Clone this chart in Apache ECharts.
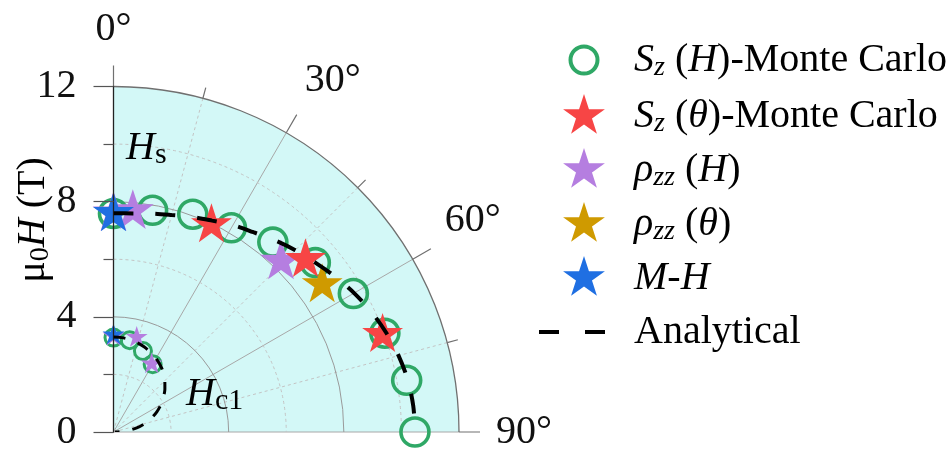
<!DOCTYPE html>
<html>
<head>
<meta charset="utf-8">
<script src="https://cdn.jsdelivr.net/npm/echarts@6/dist/echarts.min.js"></script>
<style>
html, body { margin: 0; padding: 0; background: #ffffff; }
#chart { width: 948px; height: 455px; }
</style>
</head>
<body>
<div id="chart"></div>
<script>
// Field direction (degrees from the c axis) and field strength mu0H (T)
const szHAngleHs = [0, 10, 20, 30, 40, 50, 60, 70, 80, 90];
const szHFieldHs = [7.59, 7.82, 8.05, 8.19, 8.61, 9.15, 9.62, 10.03, 10.34, 10.47];
const szHAngleHc1 = [0, 10, 20, 30];
const szHFieldHc1 = [3.28, 3.24, 2.99, 2.72];

const szThetaAngle = [25.3, 48.1, 70.1];
const szThetaField = [7.96, 8.96, 9.94];

const rhoHAngleHs = [0, 5, 44.5];
const rhoHFieldHs = [7.6, 7.7, 8.3];
const rhoHAngleHc1 = [0, 13.8, 29.3];
const rhoHFieldHc1 = [3.33, 3.38, 2.71];

const rhoThetaAngle = [54.8];
const rhoThetaField = [8.87];

const mhAngleHs = [0];
const mhFieldHs = [7.58];
const mhAngleHc1 = [0];
const mhFieldHc1 = [3.37];

// Analytical phase boundaries
const curveAngle = [0, 5, 10, 15, 20, 25, 30, 35, 40, 45, 50, 55, 60, 65, 70, 75, 80, 85, 90];
const analyticHs = [7.6, 7.62, 7.7, 7.8, 7.95, 8.1, 8.3, 8.47, 8.7, 8.93, 9.15, 9.4, 9.65, 9.88, 10.08, 10.25, 10.38, 10.45, 10.48];
const analyticHc1 = [3.3, 3.29, 3.26, 3.21, 3.14, 3.05, 2.95, 2.83, 2.7, 2.52, 2.33, 2.12, 1.9, 1.66, 1.4, 1.12, 0.82, 0.45, 0.05];

// Axis ranges, tick spacing and field grid circles
const fieldMin = 0, fieldMax = 12, fieldStep = 4;
const angleMin = 0, angleMax = 90, angleStep = 30;
const majorRings = [4, 8];
const minorRings = [2, 6, 10];

const SERIF = '"Liberation Serif", "Times New Roman", serif';
const GREEN = '#2fa866', RED = '#f74545', PURPLE = '#b57ee0', GOLD = '#cf9a00', BLUE = '#1f6fe2';
const PLOT_BG = '#d3f8f7';

// five-point star, bounding box padded so its centre is the star's circumcentre
const STAR = 'path://M50 0L61.23 34.55L97.55 34.55L68.17 55.9L79.39 90.45L50 69.1L20.61 90.45L31.83 55.9L2.45 34.55L38.77 34.55ZM50 100';
const RING = 'path://M0 0M44 44M22 8.5C29.46 8.5 35.5 14.54 35.5 22C35.5 29.46 29.46 35.5 22 35.5C14.54 35.5 8.5 29.46 8.5 22C8.5 14.54 14.54 8.5 22 8.5Z';

function pts(field, angle) { return field.map((r, i) => [r, angle[i]]); }

const N_SZH = 'szH', N_SZT = 'szTheta', N_RH = 'rhoH', N_RT = 'rhoTheta', N_MH = 'mh', N_AN = 'analytical';
const legendText = {
  szH: '{i|S}{sub|z}{n| (}{i|H}{n|)-Monte Carlo}',
  szTheta: '{i|S}{sub|z}{n| (}{i|θ}{n|)-Monte Carlo}',
  rhoH: '{i|ρ}{sub|zz}{n| (}{i|H}{n|)}',
  rhoTheta: '{i|ρ}{sub|zz}{n| (}{i|θ}{n|)}',
  mh: '{i|M}{n|-}{i|H}',
  analytical: '{n|Analytical}'
};

function starSeries(name, field, angle, color, size, z) {
  return {
    name: name, type: 'scatter', coordinateSystem: 'polar',
    symbol: STAR, symbolSize: [size * 0.951, size],
    itemStyle: { color: color, opacity: 1 },
    data: pts(field, angle), z: z, silent: true
  };
}
function ringSeries(field, angle, size, width) {
  return {
    name: N_SZH, type: 'scatter', coordinateSystem: 'polar',
    symbol: 'circle', symbolSize: size,
    itemStyle: { color: 'rgba(0,0,0,0)', borderColor: GREEN, borderWidth: width, opacity: 1 },
    data: pts(field, angle), z: 3, silent: true
  };
}
function curveSeries(field, width, dash) {
  return {
    name: N_AN, type: 'line', coordinateSystem: 'polar',
    smooth: 0.3, symbol: 'none',
    lineStyle: { color: '#000', width: width, type: dash },
    data: pts(field, curveAngle), z: 12, silent: true
  };
}
// quarter-circle grid lines at constant field, placed through the polar scale
function gridArcSeries(rings, color, dash) {
  return {
    type: 'custom', coordinateSystem: 'polar', silent: true, z: 1,
    data: rings.map(r => [r, 0]),
    renderItem: function (params, api) {
      const cs = params.coordSys;
      const p = api.coord([api.value(0), 0]);
      const rr = Math.hypot(p[0] - cs.cx, p[1] - cs.cy);
      return {
        type: 'arc',
        shape: { cx: cs.cx, cy: cs.cy, r: rr, startAngle: -Math.PI / 2, endAngle: 0, clockwise: true },
        style: { stroke: color, fill: null, lineWidth: 1, lineDash: dash }
      };
    }
  };
}
// shaded quarter disc behind the grid
function backgroundSeries() {
  return {
    type: 'custom', coordinateSystem: 'polar', silent: true, z: -1,
    data: [[fieldMax, angleMax]],
    renderItem: function (params, api) {
      const cs = params.coordSys;
      const p = api.coord([api.value(0), 0]);
      const rr = Math.hypot(p[0] - cs.cx, p[1] - cs.cy);
      return {
        type: 'sector',
        shape: { cx: cs.cx, cy: cs.cy, r0: 0, r: rr, startAngle: -Math.PI / 2, endAngle: 0, clockwise: true },
        style: { fill: PLOT_BG }
      };
    }
  };
}

const chart = echarts.init(document.getElementById('chart'), null, { renderer: 'canvas' });
chart.setOption({
  backgroundColor: '#ffffff',
  animation: false,
  polar: { center: [113.5, 432], radius: 345.5 },
  angleAxis: {
    type: 'value', min: angleMin, max: angleMax, interval: angleStep,
    startAngle: 90, endAngle: 0, clockwise: true, z: 0,
    axisLine: { show: true, lineStyle: { color: '#707070', width: 1.3 } },
    axisTick: { show: true, length: 21, lineStyle: { color: '#707070', width: 1.2 } },
    minorTick: { show: true, splitNumber: 2, length: 11, lineStyle: { color: '#707070', width: 1.2 } },
    splitLine: { show: true, lineStyle: { color: '#a8a8a8', width: 1 } },
    minorSplitLine: { show: true, lineStyle: { color: '#c4c4c4', width: 1, type: [3, 3] } },
    splitArea: { show: false },
    axisLabel: { show: true, formatter: '{value}°', fontFamily: SERIF, fontSize: 40, color: '#111', margin: 37 }
  },
  radiusAxis: {
    type: 'value', min: fieldMin, max: fieldMax, interval: fieldStep, z: 10,
    axisLine: { show: true, lineStyle: { color: '#222', width: 1.3 } },
    axisTick: { show: true, length: 20, lineStyle: { color: '#555', width: 1.2 } },
    minorTick: { show: true, splitNumber: 2, length: 10, lineStyle: { color: '#555', width: 1.2 } },
    splitLine: { show: false },
    minorSplitLine: { show: false },
    splitArea: { show: false },
    axisLabel: { show: true, fontFamily: SERIF, fontSize: 40, color: '#111', margin: 37 }
  },
  legend: {
    orient: 'vertical', left: 537, top: 36, padding: 0,
    itemWidth: 90, itemHeight: 44, itemGap: 10, selectedMode: false,
    formatter: name => legendText[name],
    textStyle: {
      fontFamily: SERIF, fontSize: 40, color: '#000', lineHeight: 44,
      rich: {
        i: { fontFamily: SERIF, fontSize: 40, fontStyle: 'italic', lineHeight: 44, color: '#000' },
        n: { fontFamily: SERIF, fontSize: 40, lineHeight: 44, color: '#000' },
        sub: { fontFamily: SERIF, fontSize: 28, fontStyle: 'italic', lineHeight: 4, verticalAlign: 'bottom', color: '#000' }
      }
    },
    data: [
      { name: N_SZH, icon: RING, itemStyle: { color: 'rgba(0,0,0,0)', borderColor: GREEN, borderWidth: 4 } },
      { name: N_SZT, icon: STAR, itemStyle: { color: RED, borderWidth: 0 } },
      { name: N_RH, icon: STAR, itemStyle: { color: PURPLE, borderWidth: 0 } },
      { name: N_RT, icon: STAR, itemStyle: { color: GOLD, borderWidth: 0 } },
      { name: N_MH, icon: STAR, itemStyle: { color: BLUE, borderWidth: 0 } },
      { name: N_AN, icon: 'line', itemStyle: { color: '#000', borderColor: '#000', borderWidth: 4, borderType: [20, 26] } }
    ]
  },
  graphic: [
    {
      type: 'text', x: 126, y: 126.5, silent: true, z: 100,
      style: {
        text: '{h|H}{s|s}', align: 'left', verticalAlign: 'top',
        rich: {
          h: { fontFamily: SERIF, fontSize: 40, fontStyle: 'italic', lineHeight: 44, fill: '#000' },
          s: { fontFamily: SERIF, fontSize: 30, lineHeight: 15, verticalAlign: 'bottom', fill: '#000' }
        }
      }
    },
    {
      type: 'text', x: 186, y: 372.5, silent: true, z: 100,
      style: {
        text: '{h|H}{s|c1}', align: 'left', verticalAlign: 'top',
        rich: {
          h: { fontFamily: SERIF, fontSize: 40, fontStyle: 'italic', lineHeight: 44, fill: '#000' },
          s: { fontFamily: SERIF, fontSize: 30, lineHeight: 13, verticalAlign: 'bottom', fill: '#000' }
        }
      }
    },
    {
      type: 'text', x: 33, y: 220, rotation: Math.PI / 2, silent: true, z: 100,
      style: {
        text: '{m|μ}{s|0}{h|H}{m| (T)}', align: 'center', verticalAlign: 'middle',
        rich: {
          m: { fontFamily: SERIF, fontSize: 40, lineHeight: 44, fill: '#000' },
          h: { fontFamily: SERIF, fontSize: 40, fontStyle: 'italic', lineHeight: 44, fill: '#000' },
          s: { fontFamily: SERIF, fontSize: 28, lineHeight: 17, verticalAlign: 'bottom', fill: '#000' }
        }
      }
    }
  ],
  series: [
    backgroundSeries(),
    gridArcSeries(majorRings, '#9a9a9a', null),
    gridArcSeries(minorRings, '#c4c4c4', [3, 3]),
    ringSeries(szHFieldHs, szHAngleHs, 28, 3.6),
    ringSeries(szHFieldHc1, szHAngleHc1, 17, 3),
    starSeries(N_RH, rhoHFieldHs, rhoHAngleHs, PURPLE, 44, 4),
    starSeries(N_RH, rhoHFieldHc1, rhoHAngleHc1, PURPLE, 23, 4),
    starSeries(N_SZT, szThetaField, szThetaAngle, RED, 43, 5),
    starSeries(N_RT, rhoThetaField, rhoThetaAngle, GOLD, 43, 6),
    starSeries(N_MH, mhFieldHs, mhAngleHs, BLUE, 43, 7),
    starSeries(N_MH, mhFieldHc1, mhAngleHc1, BLUE, 23, 7),
    curveSeries(analyticHs, 4, [20, 22]),
    curveSeries(analyticHc1, 3, [12, 13])
  ]
});
</script>
</body>
</html>
